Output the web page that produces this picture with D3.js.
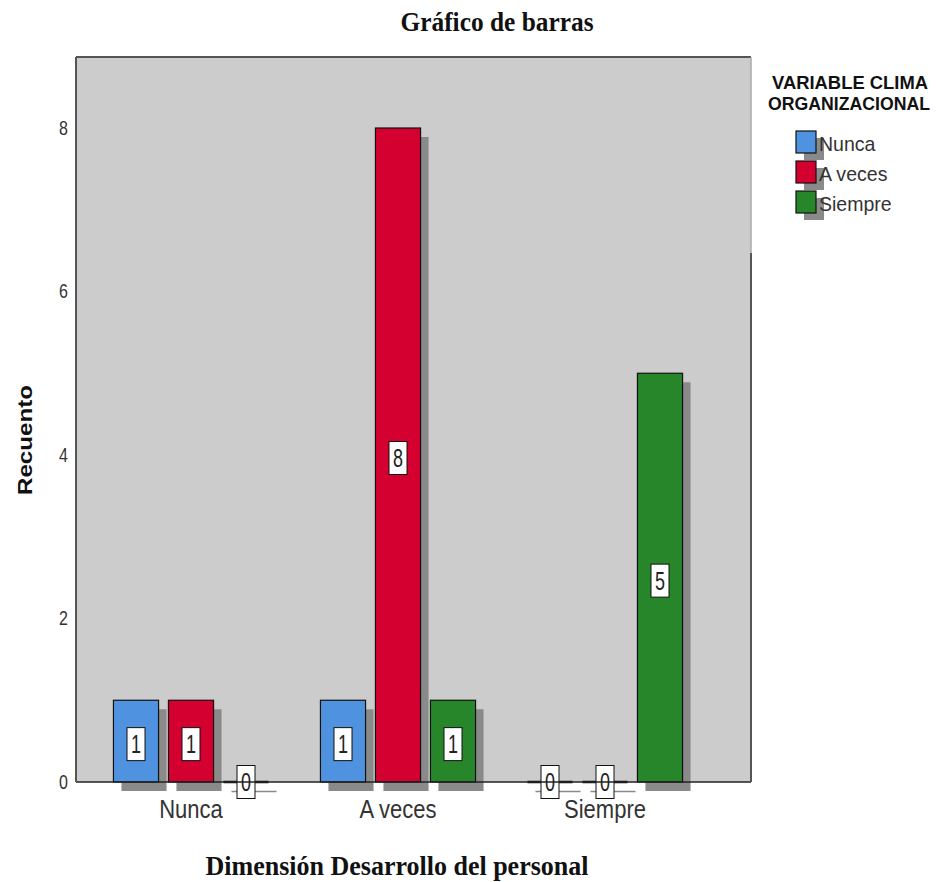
<!DOCTYPE html>
<html>
<head>
<meta charset="utf-8">
<script src="https://cdn.jsdelivr.net/npm/d3@7"></script>
<style>
  html, body { margin: 0; padding: 0; background: #fff; }
  svg { display: block; }
</style>
</head>
<body>
<script>
// Categories on the x axis (Dimensión Desarrollo del personal)
const categories = ["Nunca", "A veces", "Siempre"];
// Legend series (VARIABLE CLIMA ORGANIZACIONAL)
const seriesNames = ["Nunca", "A veces", "Siempre"];
// Counts for each series, one value per category
const serieNunca = [1, 1, 0];
const serieAVeces = [1, 8, 0];
const serieSiempre = [0, 1, 5];
const yTicks = [0, 2, 4, 6, 8];
const seriesColors = ["#4f93e0", "#d4002f", "#28862a"];

const seriesValues = [serieNunca, serieAVeces, serieSiempre];

const W = 937, H = 882;
const plot = { left: 76, right: 751, top: 57, bottom: 782 };
const SANS = "'Liberation Sans', Arial, sans-serif";
const SERIF = "'Liberation Serif', 'Times New Roman', serif";

const svg = d3.select("body").append("svg")
  .attr("width", W).attr("height", H)
  .style("font-family", SANS);

// squeeze a text element horizontally around its anchor
function condense(sel, k) {
  sel.each(function () {
    const t = d3.select(this);
    const w = this.getComputedTextLength();
    t.attr("textLength", w * k).attr("lengthAdjust", "spacingAndGlyphs");
  });
}

const y = d3.scaleLinear().domain([0, 8]).range([782, 128]);
const x0 = d3.scaleBand().domain(categories).range([87.5, 708.5]).paddingInner(0).paddingOuter(0);
const x1 = d3.scaleBand().domain(seriesNames).range([21, 186]).paddingInner(0.18).paddingOuter(0.09);

// plot background
svg.append("rect")
  .attr("x", plot.left).attr("y", plot.top)
  .attr("width", plot.right - plot.left).attr("height", plot.bottom - plot.top)
  .attr("fill", "#cccccc");

// flat list of bars
const bars = [];
categories.forEach((c, ci) => {
  seriesNames.forEach((s, si) => {
    bars.push({ cat: c, ser: s, si, value: seriesValues[si][ci] });
  });
});

const shadowDx = 8, shadowDy = 9;
const g = svg.append("g");

// drop shadows
bars.forEach(d => {
  const bx = x0(d.cat) + x1(d.ser);
  const bw = x1.bandwidth();
  if (d.value > 0) {
    g.append("rect")
      .attr("x", bx + shadowDx).attr("y", y(d.value) + shadowDy)
      .attr("width", bw).attr("height", y(0) - y(d.value))
      .attr("fill", "#8a8a8a");
  } else {
    g.append("line")
      .attr("x1", bx + shadowDx).attr("x2", bx + bw + shadowDx)
      .attr("y1", y(0) + shadowDy + 0.5).attr("y2", y(0) + shadowDy + 0.5)
      .attr("stroke", "#8a8a8a").attr("stroke-width", 1.5);
  }
});

// axis line at zero
svg.append("line")
  .attr("x1", plot.left).attr("x2", plot.right)
  .attr("y1", plot.bottom).attr("y2", plot.bottom)
  .attr("stroke", "#222").attr("stroke-width", 1.5);

// bars
bars.forEach(d => {
  const bx = x0(d.cat) + x1(d.ser);
  const bw = x1.bandwidth();
  if (d.value > 0) {
    g.append("rect")
      .attr("x", bx).attr("y", y(d.value))
      .attr("width", bw).attr("height", y(0) - y(d.value))
      .attr("fill", seriesColors[d.si])
      .attr("stroke", "#111").attr("stroke-width", 1.2);
  } else {
    g.append("line")
      .attr("x1", bx).attr("x2", bx + bw)
      .attr("y1", y(0)).attr("y2", y(0))
      .attr("stroke", "#111").attr("stroke-width", 2.5);
  }
});

// value labels
bars.forEach(d => {
  const cx = x0(d.cat) + x1(d.ser) + x1.bandwidth() / 2;
  const cy = (y(0) + y(d.value)) / 2 + (d.value > 0 ? 3 : 0);
  const lab = g.append("g").attr("transform", `translate(${cx},${cy})`);
  lab.append("rect")
    .attr("x", -9).attr("y", -16.5).attr("width", 18).attr("height", 33)
    .attr("fill", "#fff").attr("stroke", "#111").attr("stroke-width", 1);
  lab.append("text")
    .attr("text-anchor", "middle").attr("dy", "0.36em")
    .attr("transform", "scale(0.72,1)")
    .attr("font-size", 25).attr("fill", "#222")
    .text(d.value);
});

// plot borders
svg.append("line")
  .attr("x1", plot.left).attr("x2", plot.left)
  .attr("y1", plot.top).attr("y2", plot.bottom)
  .attr("stroke", "#555").attr("stroke-width", 2);
svg.append("line")
  .attr("x1", plot.left).attr("x2", plot.right)
  .attr("y1", plot.top).attr("y2", plot.top)
  .attr("stroke", "#555").attr("stroke-width", 2);
svg.append("line")
  .attr("x1", plot.right).attr("x2", plot.right)
  .attr("y1", plot.top).attr("y2", 253)
  .attr("stroke", "#aaa").attr("stroke-width", 1.5);
svg.append("line")
  .attr("x1", plot.right).attr("x2", plot.right)
  .attr("y1", 253).attr("y2", plot.bottom)
  .attr("stroke", "#555").attr("stroke-width", 2);

// y axis tick labels
const yAxis = d3.axisLeft(y).tickValues(yTicks).tickSize(0).tickPadding(8);
const ya = svg.append("g").attr("transform", `translate(${plot.left},0)`).call(yAxis);
ya.select(".domain").remove();
ya.selectAll("text")
  .attr("font-size", 20).attr("fill", "#333")
  .attr("font-family", SANS)
  .call(condense, 0.8);

// x axis category labels
const xAxis = d3.axisBottom(x0).tickSize(0).tickPadding(18);
const xa = svg.append("g").attr("transform", `translate(0,${plot.bottom})`).call(xAxis);
xa.select(".domain").remove();
xa.selectAll("text")
  .attr("font-size", 25).attr("fill", "#333")
  .attr("font-family", SANS)
  .call(condense, 0.88);

// titles
svg.append("text")
  .attr("x", 497).attr("y", 31)
  .attr("text-anchor", "middle")
  .attr("font-family", SERIF)
  .attr("font-weight", "bold").attr("font-size", 27).attr("fill", "#111")
  .attr("textLength", 193).attr("lengthAdjust", "spacingAndGlyphs")
  .text("Gráfico de barras");

svg.append("text")
  .attr("x", 397).attr("y", 875)
  .attr("text-anchor", "middle")
  .attr("font-family", SERIF)
  .attr("font-weight", "bold").attr("font-size", 27).attr("fill", "#111")
  .attr("textLength", 383).attr("lengthAdjust", "spacingAndGlyphs")
  .text("Dimensión Desarrollo del personal");

svg.append("text")
  .attr("transform", "translate(32,440) rotate(-90)")
  .attr("text-anchor", "middle")
  .attr("font-weight", "bold").attr("font-size", 21).attr("fill", "#111")
  .attr("textLength", 110).attr("lengthAdjust", "spacingAndGlyphs")
  .text("Recuento");

// legend
const leg = svg.append("g");
leg.append("text")
  .attr("x", 850).attr("y", 89).attr("text-anchor", "middle")
  .attr("font-weight", "bold").attr("font-size", 18).attr("fill", "#111")
  .attr("textLength", 156).attr("lengthAdjust", "spacingAndGlyphs")
  .text("VARIABLE CLIMA");
leg.append("text")
  .attr("x", 849).attr("y", 110).attr("text-anchor", "middle")
  .attr("font-weight", "bold").attr("font-size", 18).attr("fill", "#111")
  .attr("textLength", 162).attr("lengthAdjust", "spacingAndGlyphs")
  .text("ORGANIZACIONAL");

const legY = d3.scaleBand().domain(seriesNames).range([130, 220]);
seriesNames.forEach((s) => {
  const yy = legY(s);
  leg.append("rect")
    .attr("x", 804).attr("y", yy + 8).attr("width", 20).attr("height", 22)
    .attr("fill", "#8a8a8a");
});
seriesNames.forEach((s, i) => {
  const yy = legY(s);
  leg.append("rect")
    .attr("x", 796).attr("y", yy + 1).attr("width", 20).attr("height", 22)
    .attr("fill", seriesColors[i]).attr("stroke", "#111").attr("stroke-width", 1.2);
  leg.append("text")
    .attr("x", 819).attr("y", yy + 21)
    .attr("font-size", 21).attr("fill", "#333")
    .text(s)
    .call(condense, 0.93);
});
</script>
</body>
</html>
